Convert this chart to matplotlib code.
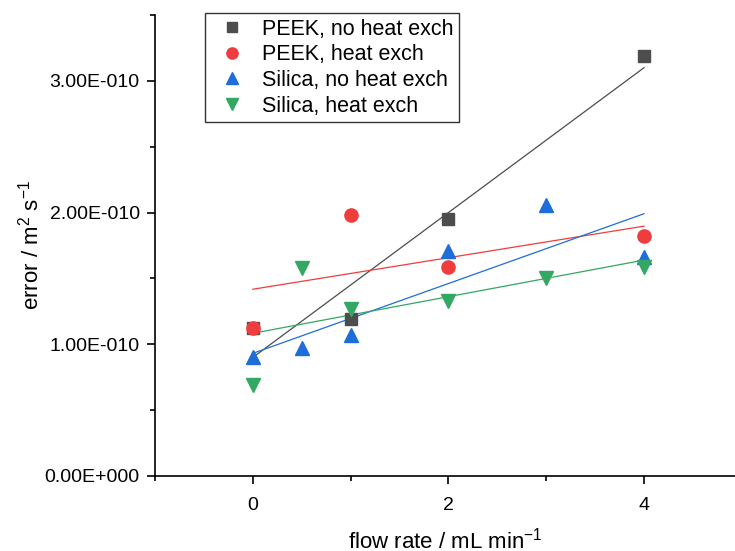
import numpy as np
import matplotlib
matplotlib.use("Agg")
import matplotlib.pyplot as plt
from matplotlib.ticker import FuncFormatter, MultipleLocator

plt.rcParams['font.family'] = ['Liberation Sans', 'DejaVu Sans']
plt.rcParams['mathtext.default'] = 'regular'

# data
peek_no_x = [0, 1, 2, 4]
peek_no_y = [1.12e-10, 1.19e-10, 1.95e-10, 3.19e-10]
peek_hx_x = [0, 1, 2, 4]
peek_hx_y = [1.12e-10, 1.98e-10, 1.59e-10, 1.82e-10]
sil_no_x = [0, 0.5, 1, 2, 3, 4]
sil_no_y = [0.90e-10, 0.97e-10, 1.07e-10, 1.71e-10, 2.06e-10, 1.66e-10]
sil_hx_x = [0, 0.5, 1, 2, 3, 4]
sil_hx_y = [0.69e-10, 1.58e-10, 1.27e-10, 1.33e-10, 1.50e-10, 1.59e-10]

labels = ["PEEK, no heat exch", "PEEK, heat exch", "Silica, no heat exch", "Silica, heat exch"]
colors = ["#4d4d4d", "#ef3d3d", "#1d6ddb", "#33a862"]
markers = ["s", "o", "^", "v"]
sizes = [8, 9.5, 10, 10]

fig = plt.figure(figsize=(7.35, 5.51), dpi=100)
ax = fig.add_axes([155/735, 75/551, 1 - 155/735, (476-15)/551])

series = [(peek_no_x, peek_no_y), (peek_hx_x, peek_hx_y), (sil_no_x, sil_no_y), (sil_hx_x, sil_hx_y)]
for (x, y), lab, c, m, s in zip(series, labels, colors, markers, sizes):
    x = np.array(x); y = np.array(y)
    ax.plot(x, y, linestyle="none", marker=m, color=c, markersize=s, label=lab, zorder=3)
    k, b = np.polyfit(x, y, 1)
    xs = np.array([x.min(), x.max()])
    ax.plot(xs, k * xs + b, color=c, lw=0.9, zorder=2)

ax.set_xlim(-1, 4.93)
ax.set_ylim(0, 3.5e-10)
ax.xaxis.set_major_locator(MultipleLocator(2))
ax.xaxis.set_minor_locator(MultipleLocator(1))
ax.yaxis.set_major_locator(MultipleLocator(1e-10))
ax.yaxis.set_minor_locator(MultipleLocator(0.5e-10))


def sci(v, pos):
    if v == 0:
        return "0.00E+000"
    e = int(np.floor(np.log10(abs(v)) + 1e-9))
    m = v / 10**e
    return f"{m:.2f}E{'-' if e < 0 else '+'}{abs(e):03d}"


ax.yaxis.set_major_formatter(FuncFormatter(sci))
ax.spines['top'].set_visible(False)
ax.spines['right'].set_visible(False)
ax.spines['left'].set_linewidth(1.2)
ax.spines['bottom'].set_linewidth(1.2)
ax.tick_params(which='major', direction='out', length=6, width=1.2, labelsize=14)
ax.tick_params(axis='x', which='major', pad=9)
ax.tick_params(axis='y', which='major', pad=5)
ax.tick_params(which='minor', direction='out', length=3.5, width=1.2)

ax.set_xlabel("flow rate / mL min$^{-1}$", fontsize=16, labelpad=10)
ax.set_ylabel("error / m$^2$ s$^{-1}$", fontsize=16, labelpad=1)

leg = ax.legend(loc='upper left', bbox_to_anchor=(50/580, 1.004), borderaxespad=0,
                fontsize=15.5, frameon=True, fancybox=False, edgecolor='black',
                handletextpad=0.4, borderpad=0.25, labelspacing=0.22, handlelength=2.0,
                markerscale=0.85)
leg.get_frame().set_linewidth(1.0)

fig.savefig("out.png", dpi=100)
